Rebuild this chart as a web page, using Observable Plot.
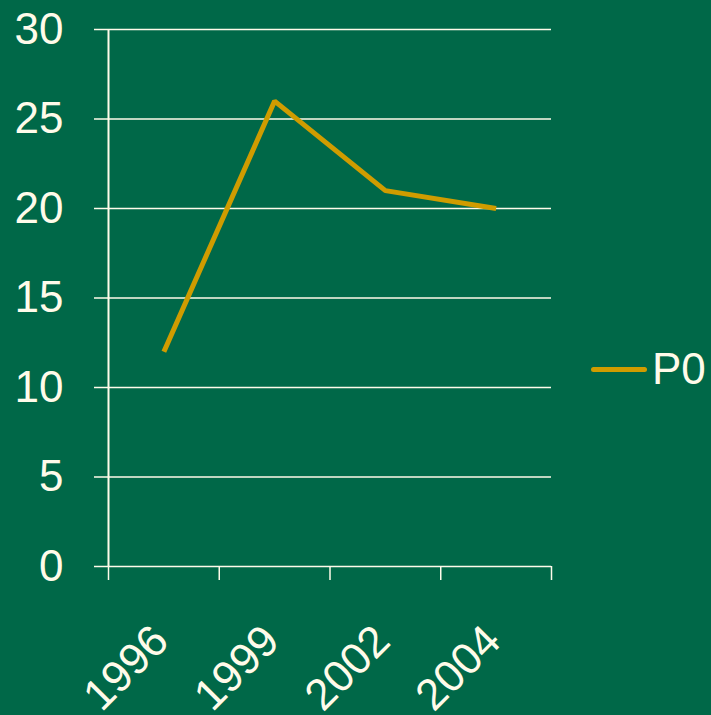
<!DOCTYPE html>
<html>
<head>
<meta charset="utf-8">
<script src="https://cdn.jsdelivr.net/npm/d3@7"></script>
<script src="https://cdn.jsdelivr.net/npm/@observablehq/plot@0.6"></script>
<style>
  html, body { margin: 0; padding: 0; background: #006848; }
  #wrap { position: relative; width: 711px; height: 715px; background: #006848; }
  #legend { position: absolute; left: 591px; top: 343px; display: flex; align-items: center; line-height: 52px;
    font-family: "Liberation Sans", Arial, sans-serif; font-size: 44px; color: #FFFBEA; }
  #legend .sw { width: 56px; height: 5px; background: #CF9C00; border-radius: 3px; margin-right: 5px; }
</style>
</head>
<body>
<div id="wrap"><div id="legend"><span class="sw"></span><span>P0</span></div></div>
<script>
const years = ["1996", "1999", "2002", "2004"];
const p0 = [12, 26, 21, 20];
const yTicks = [0, 5, 10, 15, 20, 25, 30];

const data = years.map((y, i) => ({year: y, idx: i + 0.5, value: p0[i]}));
const cream = "#FFFBEA";

const chart = Plot.plot({
  width: 711,
  height: 715,
  marginLeft: 108,
  marginRight: 160,
  marginTop: 29,
  marginBottom: 149,
  style: {background: "#006848", color: cream, fontFamily: "Liberation Sans, Arial, sans-serif", fontSize: "44px", overflow: "visible"},
  x: {domain: [0, years.length]},
  y: {domain: [0, 30]},
  marks: [
    Plot.ruleY(yTicks, {stroke: cream, strokeWidth: 1.5, strokeOpacity: 1}),
    Plot.axisY(yTicks, {tickSize: 14, tickPadding: 31, stroke: cream, strokeWidth: 1.5, strokeOpacity: 1, fontSize: 44, fill: cream, label: null}),
    Plot.axisX(d3.range(0, years.length + 1), {tickSize: 14, stroke: cream, strokeWidth: 1.5, strokeOpacity: 1, tickFormat: () => "", label: null}),
    Plot.ruleX([0], {y1: 0, y2: 30, stroke: cream, strokeWidth: 2}),
    Plot.text(data, {x: "idx", y: () => 0, text: "year", rotate: -45, textAnchor: "end", dx: -3, dy: 67, fontSize: 44, fill: cream}),
    Plot.line(data, {x: "idx", y: "value", stroke: "#CF9C00", strokeWidth: 5, strokeLinejoin: "miter", strokeLinecap: "butt"})
  ]
});
document.getElementById("wrap").prepend(chart);
chart.style.position = "absolute";
chart.style.left = "0";
chart.style.top = "0";
</script>
</body>
</html>
